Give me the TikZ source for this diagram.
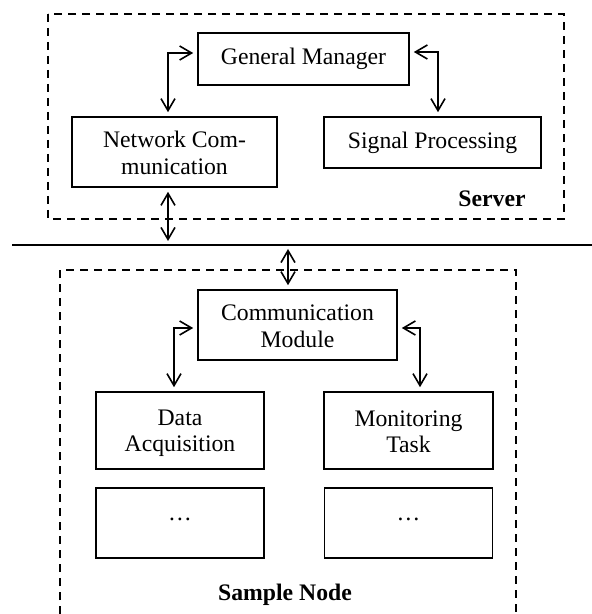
\documentclass[tikz,border=0pt]{standalone}
\usepackage{fontspec}
\setmainfont{Liberation Serif}
\usetikzlibrary{arrows.meta}

% strut for the two-line labels: tall top, shallow bottom
\newcommand{\lstrut}{\rule[-1.5pt]{0pt}{12pt}}

\tikzset{
  box/.style={draw, line width=0.8pt, inner sep=0pt, align=center,
    font=\fontsize{11.85}{13.3}\selectfont},
  group/.style={draw, line width=0.8pt, dash pattern=on 4pt off 3pt},
  biarrow/.style={{Straight Barb[length=6pt,width=7pt]}-{Straight Barb[length=6pt,width=7pt]},
    line width=0.8pt, shorten <=2pt, shorten >=2pt},
  title/.style={font=\fontsize{11.85}{13.3}\selectfont\bfseries}
}

\begin{document}
\begin{tikzpicture}[x=0.5pt, y=-0.5pt]  % one unit = one pixel, y downwards
    \useasboundingbox (0,0) rectangle (592,614);

    % Server
    \draw[group] (48,14) rectangle (564,219);
    \node[title] (srv) at (492,199) {Server};

    \node[box, minimum width=105.5pt, minimum height=26pt] (gm) at (303.5,59) {General Manager};
    \node[box, minimum width=102.5pt, minimum height=35pt] (nc) at (174.5,152) {Network Com-\lstrut\\munication\lstrut};
    \node[box, minimum width=108.5pt, minimum height=25.5pt] (sp) at (432.5,142.5) {Signal Processing};

    \draw[biarrow] ([yshift=3pt]gm.west) -| ([xshift=-3.25pt]nc.north);
    \draw[biarrow] ([yshift=3.5pt]gm.east) -| ([xshift=2.75pt]sp.north);

    % Bus
    \coordinate (busL) at (12,245);
    \coordinate (busR) at (592,245);
    \draw[line width=1pt] (busL) -- (busR);
    \draw[biarrow] ([xshift=-3.25pt]nc.south) -- ([xshift=-3.25pt]nc.south |- busL);

    % Sample Node (open at the bottom)
    \draw[group] (60,614) -- (60,270) -- (516,270) -- (516,614);
    \node[title] (smp) at (285,595) {Sample Node};

    \node[box, minimum width=99.5pt, minimum height=35pt] (cm) at (297.5,325) {Communication\lstrut\\Module\lstrut};
    \node[box, minimum width=84pt, minimum height=38.5pt] (da) at (180,430.5) {Data\lstrut\\Acquisition\lstrut};
    \node[box, minimum width=84.5pt, minimum height=38.5pt] (mt) at (408.5,430.5) {Monitoring\lstrut\\Task\lstrut};

    \foreach \Xc/\Nm in {180/dotsL, 408.5/dotsR}
    {
      \node[box, minimum width=84pt, minimum height=35pt] (\Nm) at (\Xc,523) {\raisebox{4pt}{…}};
    }

    \draw[biarrow] ([xshift=-4.75pt]cm.north |- busL) -- ([xshift=-4.75pt]cm.north);
    \draw[biarrow] ([yshift=-1.5pt]cm.west) -| ([xshift=-3pt]da.north);
    \draw[biarrow] ([yshift=-1.5pt]cm.east) -| ([xshift=5.75pt]mt.north);

\end{tikzpicture}
\end{document}
